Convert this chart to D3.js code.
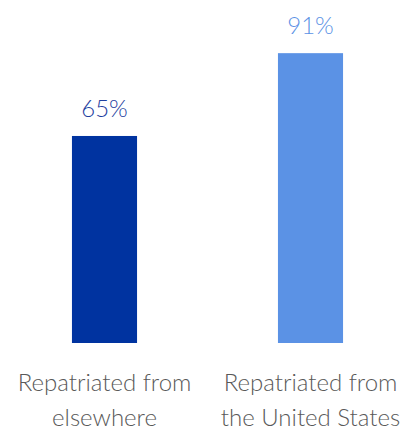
<!DOCTYPE html>
<html><head><meta charset="utf-8">
<script src="https://cdn.jsdelivr.net/npm/d3@7"></script>
<style>body{margin:0;background:#fff}svg{display:block}</style>
</head><body>
<script>
const categories = ["Repatriated from\nelsewhere", "Repatriated from\nthe United States"];
const values = [65, 91];
const valueLabels = ["65%", "91%"];
const colors = ["#0033a0", "#5b92e5"];
const textColors = ["#1f3f9f", "#5b92e5"];

const W = 401, H = 432;
const svg = d3.select("body").append("svg").attr("width", W).attr("height", H);
const x = d3.scaleBand().domain(categories).range([1.5, 413.5]).paddingInner(0.684).paddingOuter(0.342);
const y = d3.scaleLinear().domain([0, 100]).range([343, 24.5]);
const font = "Lato, 'Open Sans', sans-serif";

svg.selectAll("rect.bar").data(categories).join("rect")
  .attr("class", "bar")
  .attr("x", d => x(d))
  .attr("width", x.bandwidth())
  .attr("y", (d, i) => y(values[i]))
  .attr("height", (d, i) => y(0) - y(values[i]))
  .attr("fill", (d, i) => colors[i]);

svg.selectAll("text.val").data(categories).join("text")
  .attr("class", "val")
  .attr("x", d => x(d) + x.bandwidth() / 2)
  .attr("y", (d, i) => y(values[i]) - 19)
  .attr("text-anchor", "middle")
  .attr("font-family", font).attr("font-weight", 300).attr("font-size", 24)
  .attr("fill", (d, i) => textColors[i])
  .text((d, i) => valueLabels[i]);

const labels = svg.selectAll("text.cat").data(categories).join("text")
  .attr("class", "cat")
  .attr("text-anchor", "middle")
  .attr("font-family", font).attr("font-weight", 300).attr("font-size", 24)
  .attr("fill", "#595959");
labels.each(function(d) {
  const t = d3.select(this);
  d.split("\n").forEach((line, j) => {
    t.append("tspan").attr("x", x(d) + x.bandwidth() / 2).attr("y", 391 + j * 35).text(line);
  });
});
</script>
</body></html>
